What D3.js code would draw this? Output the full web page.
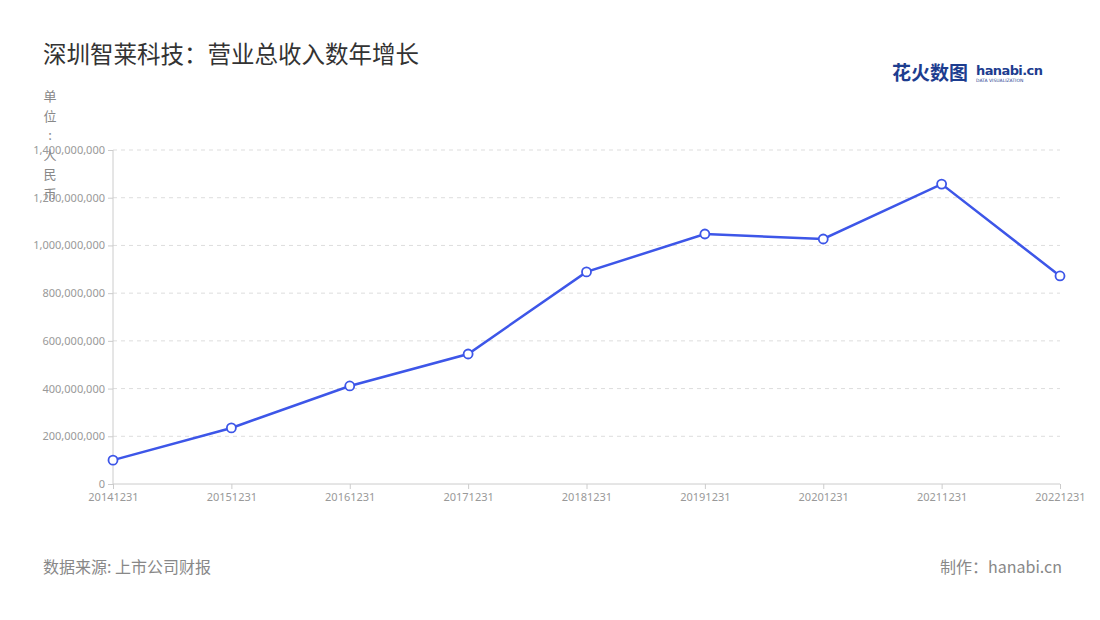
<!DOCTYPE html><html><head><meta charset="utf-8"><script src="https://cdn.jsdelivr.net/npm/d3@7"></script>
<style>body{margin:0;background:#fff;font-family:"Noto Sans CJK SC","Noto Sans",sans-serif}</style></head><body><svg id="c" width="1100" height="620"></svg>
<script>
const categories=["20141231","20151231","20161231","20171231","20181231","20191231","20201231","20211231","20221231"];
const revenue=[100000000,235000000,411000000,545000000,889000000,1048000000,1027000000,1257000000,872000000];
const yTicks=[0,200000000,400000000,600000000,800000000,1000000000,1200000000,1400000000];
const svg=d3.select("#c");
const L=113,R=1060,T=150,B=484;
const x=d3.scalePoint().domain(categories).range([L,R]);
const y=d3.scaleLinear().domain([0,1400000000]).range([B,T]);
svg.append("text").attr("x",43).attr("y",63).attr("font-size",23.5).attr("fill","#333").text("深圳智莱科技：营业总收入数年增长");
const lg=svg.append("g");
lg.append("text").attr("x",892).attr("y",80).attr("font-size",19).attr("font-weight","bold").attr("fill","#1d3d8f").text("花火数图");
lg.append("text").attr("x",976).attr("y",75).attr("font-size",13).attr("font-weight","bold").attr("fill","#1d3d8f").attr("font-family","DejaVu Sans").attr("letter-spacing",-0.6).text("hanabi.cn");
lg.append("text").attr("x",976).attr("y",82).attr("font-size",4.5).attr("fill","#1d3d8f").attr("font-family","DejaVu Sans").text("DATA VISUALIZATION");
svg.append("g").selectAll("line").data(yTicks.slice(1)).join("line").attr("x1",L).attr("x2",R).attr("y1",d=>y(d)).attr("y2",d=>y(d)).attr("stroke","#ddd").attr("stroke-dasharray","4,4");
const ya=svg.append("g").attr("transform",`translate(${L},0)`).call(d3.axisLeft(y).tickValues(yTicks).tickFormat(d3.format(",")).tickSize(5).tickPadding(3));
const xa=svg.append("g").attr("transform",`translate(0,${B})`).call(d3.axisBottom(x).tickSize(5).tickPadding(4));
[ya,xa].forEach(a=>{a.selectAll("path,line").attr("stroke","#ccc");a.selectAll("text").attr("fill","#999").attr("font-size",11).attr("font-family","Noto Sans");});
ya.select(".domain").attr("d",`M0,${B}V${T}`);
xa.select(".domain").attr("d",`M${L},0H${R}`);
const ut="单位：人民币".split("");
svg.append("g").selectAll("text").data(ut).join("text").attr("x",50).attr("y",(d,i)=>101+i*19.5).attr("text-anchor","middle").attr("font-size",13).attr("fill","#888").text(d=>d==="："?":":d);
svg.append("path").datum(revenue).attr("fill","none").attr("stroke","#3d56e8").attr("stroke-width",2.5)
 .attr("d",d3.line().x((d,i)=>x(categories[i])).y(d=>y(d)));
svg.append("g").selectAll("circle").data(revenue).join("circle").attr("cx",(d,i)=>x(categories[i])).attr("cy",d=>y(d)).attr("r",4.5).attr("fill","#fff").attr("stroke","#3d56e8").attr("stroke-width",1.8);
svg.append("text").attr("x",43).attr("y",573).attr("font-size",16).attr("fill","#888").text("数据来源: 上市公司财报");
svg.append("text").attr("x",1062).attr("y",573).attr("text-anchor","end").attr("font-size",16).attr("fill","#888").text("制作：hanabi.cn");
</script></body></html>
